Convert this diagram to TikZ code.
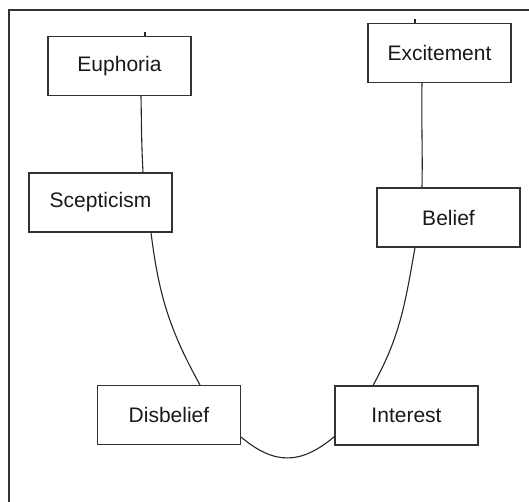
\documentclass[tikz,border=0pt]{standalone}
\usepackage{fontspec}
\setmainfont{Liberation Sans}
\begin{document}
\begin{tikzpicture}[x=1pt,y=1pt,
  box/.style={draw=black!80,line width=1.1pt,rectangle,minimum width=143pt,minimum height=59pt,inner sep=0pt,
    font=\fontsize{21}{25}\selectfont,text=black!90},
  conn/.style={draw=black!85,line width=1.1pt}]
\useasboundingbox (0,0) rectangle (529,501);
\draw[line width=2pt,black!80] (8.5,-2) -- (8.5,491) -- (531,491);
\node[box] (eu) at (119.5,435) {Euphoria};
\node[box] (ex) at (439.5,448) {Excitement};
\node[box] (sc) at (100.5,298.5) {Scepticism};
\node[box] (be) at (448.5,283.5) {Belief};
\node[box] (db) at (169,86) {Disbelief};
\node[box] (in) at (406.5,85.5) {Interest};
\coordinate (eut) at ([xshift=25.5pt,yshift=4pt]eu.north);
\coordinate (ext) at ([xshift=-24.5pt,yshift=4pt]ex.north);
\draw[conn] ([xshift=25.5pt]eu.north) -- (eut);
\draw[conn] ([xshift=-24.5pt]ex.north) -- (ext);
\draw[conn] ([xshift=21.5pt]eu.south) to[out=-89,in=93] ([xshift=42.5pt]sc.north);
\draw[conn] ([xshift=50.5pt]sc.south) to[out=-83,in=119] ([xshift=31pt]db.north);
\draw[conn] ([yshift=8pt]db.south east) to[out=-40,in=-140,looseness=1.2] ([yshift=9pt]in.south west);
\draw[conn] ([xshift=-33.5pt]in.north) to[out=61,in=-100] ([xshift=-33.5pt]be.south);
\draw[conn] ([xshift=-26.5pt]be.north) to[out=89,in=-91] ([xshift=-17.5pt]ex.south);
\end{tikzpicture}
\end{document}
